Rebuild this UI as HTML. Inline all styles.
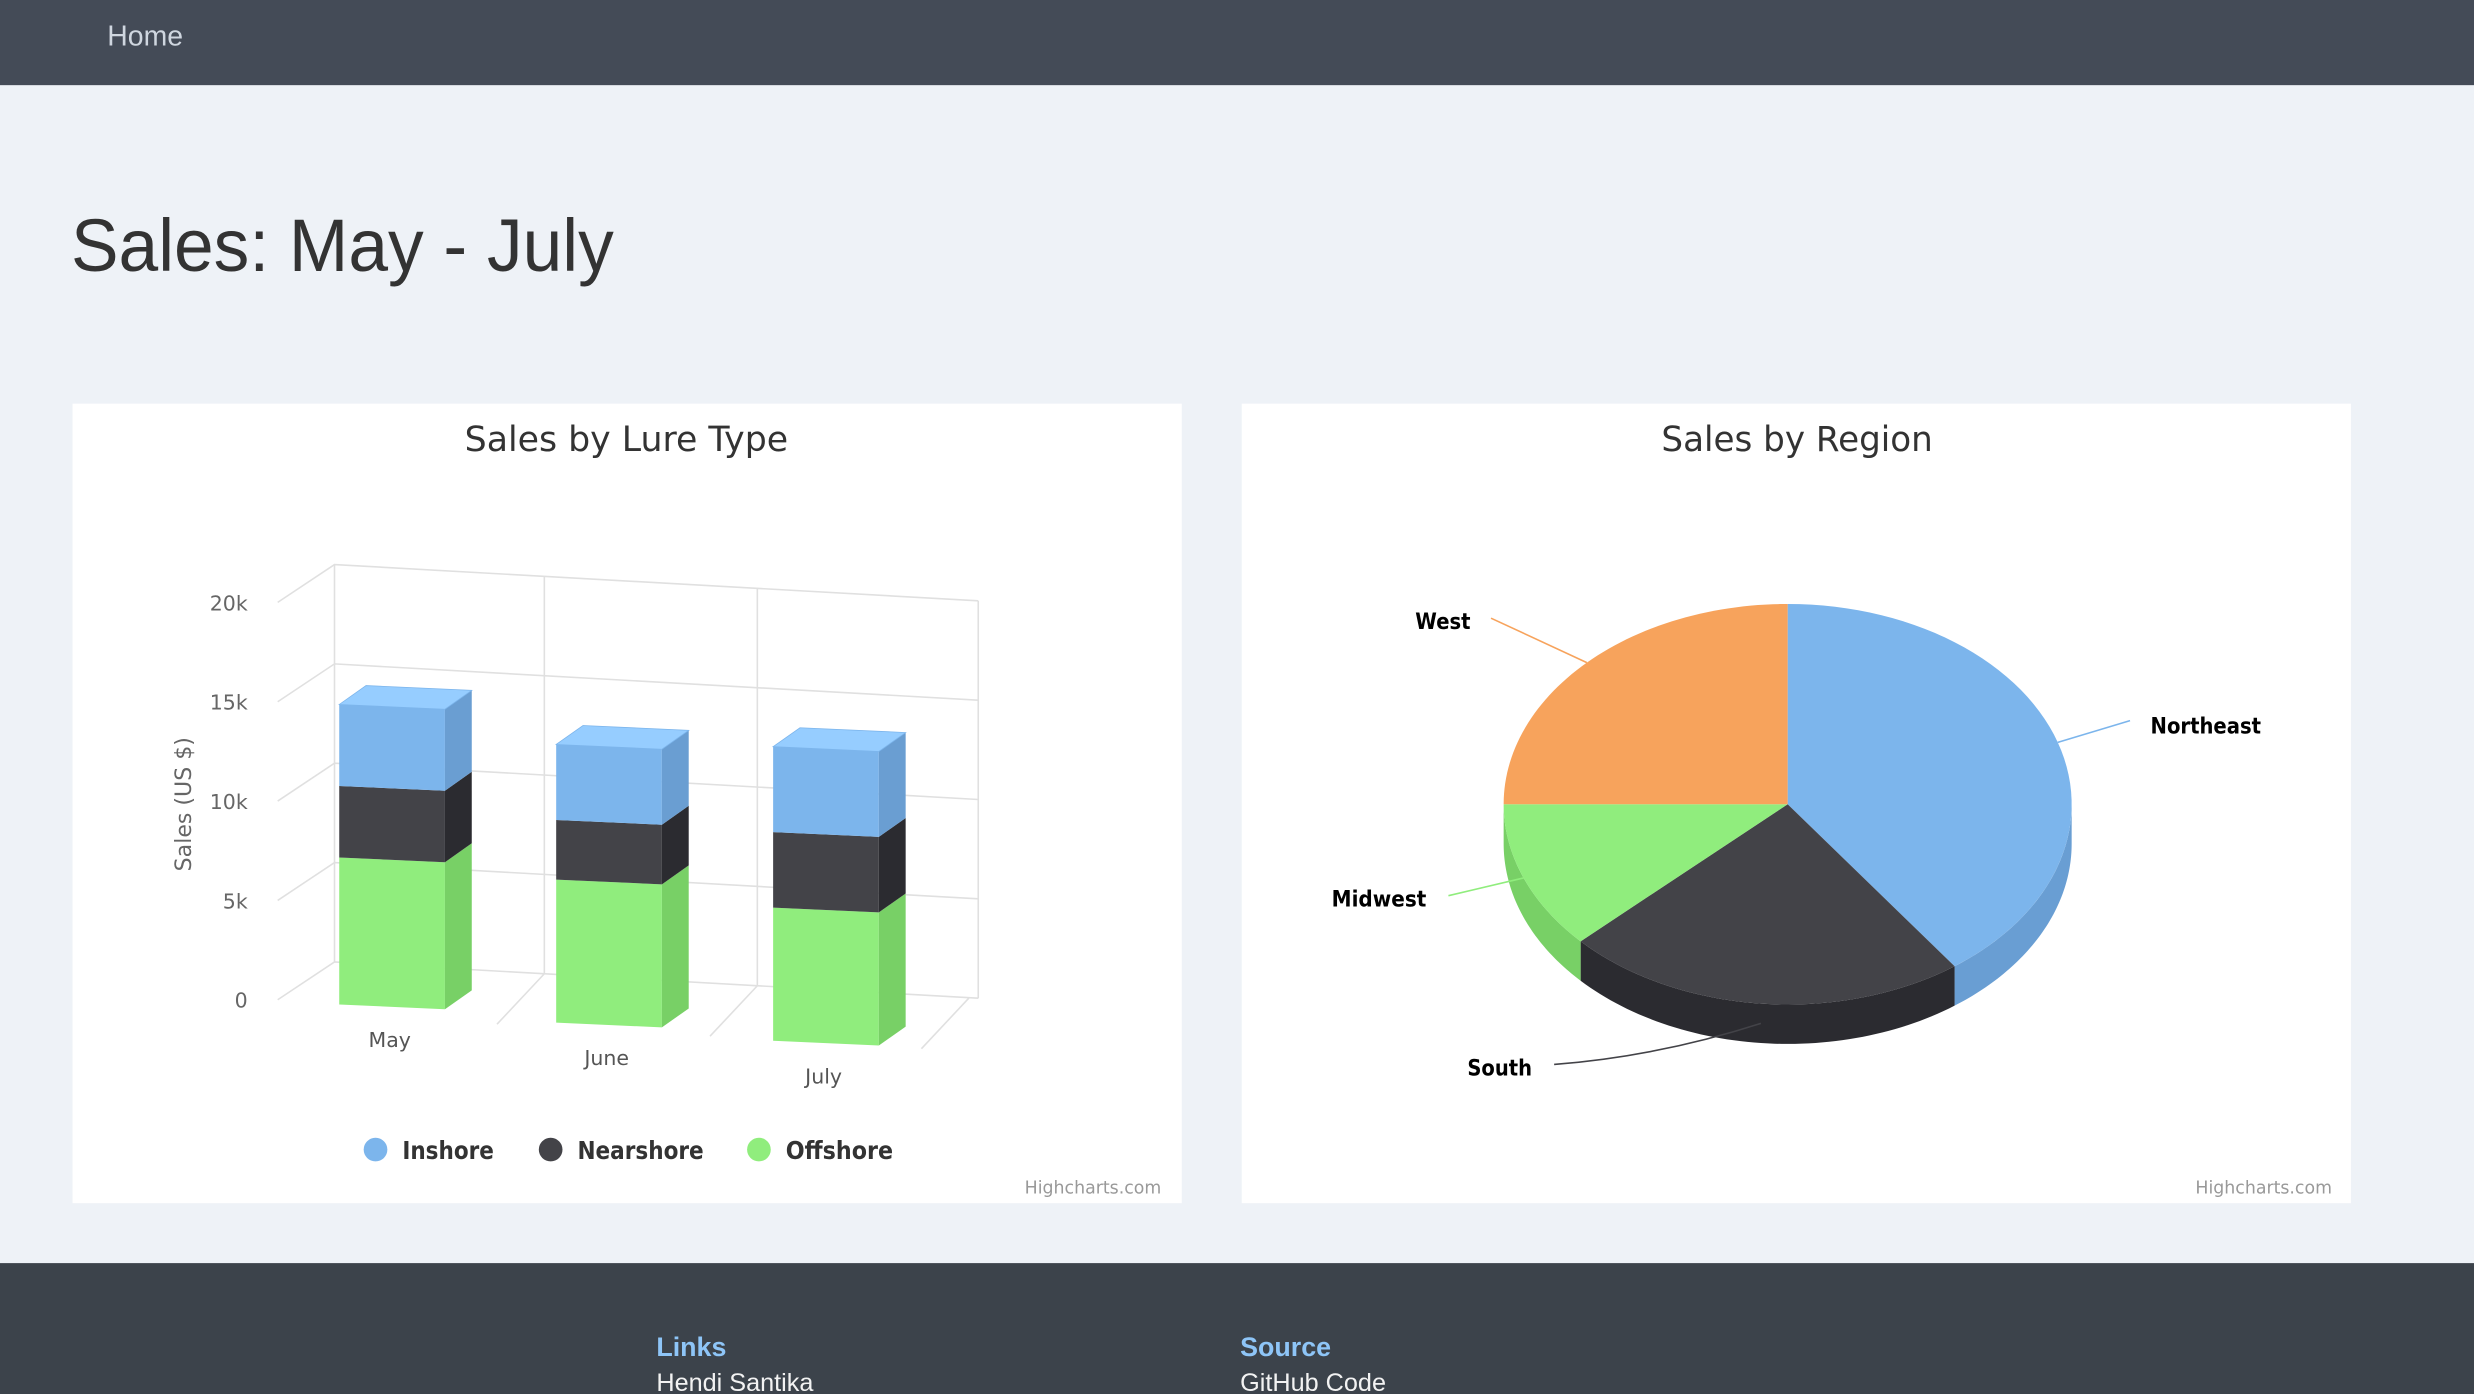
<!DOCTYPE html>
<html><head><meta charset="utf-8"><style>
html,body{margin:0;padding:0;background:#eef2f7;}
svg{display:block}
</style></head><body>
<svg id="page" width="2474" height="1394" viewBox="0 0 1568 884" preserveAspectRatio="none" xmlns="http://www.w3.org/2000/svg">
<rect width="1568" height="884" fill="#eef2f7"/>
<rect x="0" y="0" width="1568" height="54" fill="#444b57"/>
<text x="68" y="29" font-family="Liberation Sans, sans-serif" font-size="18" fill="#cfd6df">Home</text>
<text x="45" y="172" font-family="Liberation Sans, sans-serif" font-size="47" fill="#333" textLength="344" lengthAdjust="spacingAndGlyphs">Sales: May - July</text>

<rect x="46" y="256" width="703" height="507" fill="#fff"/>
<rect x="787" y="256" width="703" height="507" fill="#fff"/>
<text x="397" y="286" text-anchor="middle" font-family="DejaVu Sans, sans-serif" font-size="22" fill="#333" textLength="205" lengthAdjust="spacingAndGlyphs">Sales by Lure Type</text>
<text x="1139" y="286" text-anchor="middle" font-family="DejaVu Sans, sans-serif" font-size="22" fill="#333" textLength="172" lengthAdjust="spacingAndGlyphs">Sales by Region</text>
<g id="bar"></g>
<g id="pie"></g>
<text x="736" y="757" text-anchor="end" font-family="DejaVu Sans, sans-serif" font-size="11" fill="#999">Highcharts.com</text>
<text x="1478" y="757" text-anchor="end" font-family="DejaVu Sans, sans-serif" font-size="11" fill="#999">Highcharts.com</text>

<rect x="0" y="801" width="1568" height="83" fill="#3c434b"/>
<text x="416" y="860" font-family="Liberation Sans, sans-serif" font-size="17" font-weight="bold" fill="#8ec5f7">Links</text>
<text x="416" y="882" font-family="Liberation Sans, sans-serif" font-size="16" fill="#f2f2f2">Hendi Santika</text>
<text x="786" y="860" font-family="Liberation Sans, sans-serif" font-size="17" font-weight="bold" fill="#8ec5f7">Source</text>
<text x="786" y="882" font-family="Liberation Sans, sans-serif" font-size="16" fill="#f2f2f2">GitHub Code</text>
</svg>
<script>
const categories = ['May','June','July'];
const offshore = [7400, 7200, 6700];
const nearshore = [3600, 3000, 3800];
const inshore = [4100, 3800, 4300];
const yTicks = [0, 5000, 10000, 15000, 20000];
const yTickLabels = ['0','5k','10k','15k','20k'];

const pieNames = ['Northeast','South','Midwest','West'];
const pieValues = [40, 23, 12, 25];

const NS='http://www.w3.org/2000/svg';
function mk(tag, attrs, parent){const e=document.createElementNS(NS,tag);for(const k in attrs)e.setAttribute(k,attrs[k]);parent.appendChild(e);return e;}
const bar=document.getElementById('bar');
const K=252/20000;
function yFront(v){return 634 - v*K;}
function yBack(v){return 610 - v*K;}
function catX(i){return 215 + i*137.5;}
function catBase(i){return 3 + i*11.5;}

const gc='#e0e0e0';
yTicks.forEach((t,i)=>{
  const g=mk('path',{d:`M176 ${yFront(t)} L212 ${yBack(t)} L620 ${yBack(t)+23}`,fill:'none',stroke:gc,'stroke-width':1},bar);
  
  
  const l=mk('text',{x:157,y:yFront(t)+5,'text-anchor':'end','font-family':'DejaVu Sans, sans-serif','font-size':13,fill:'#666'},bar);
  l.textContent=yTickLabels[i];
  
  
});
[[212,0],[345,1],[480,2],[620,3]].forEach(([x,j])=>{
  const top=yBack(20000)+(x-212)*0.0564, bot=yBack(0)+(x-212)*0.0564;
  const v=mk('line',{x1:x,y1:top,x2:x,y2:bot,stroke:gc},bar);
  
  
  if(j>0){
    const fx=x-(j===3?6:0);
    const f=mk('line',{x1:fx,y1:bot,x2:fx-30,y2:bot+32,stroke:gc},bar);
    
    
  }
});

const yt=mk('text',{x:0,y:0,transform:'translate(121,510) rotate(-90)','text-anchor':'middle','font-family':'DejaVu Sans, sans-serif','font-size':14,fill:'#666'},bar);
yt.textContent='Sales (US $)';



const series=[{d:offshore,f:'#90ed7d',s:'#78d066',t:'#a8f596',n:'offshore'},{d:nearshore,f:'#434348',s:'#2b2b30',t:'#5a5a60',n:'nearshore'},{d:inshore,f:'#7cb5ec',s:'#6a9ed2',t:'#96cdff',n:'inshore'}];
const W=67,DX=17,DY=-12,SL=0.045;
categories.forEach((c,i)=>{
  const x0=catX(i),x1=x0+W,b=catBase(i);
  let acc=0;
  series.forEach((s,si)=>{
    const v0=acc, v1=acc+s.d[i]; acc=v1;
    const yl0=yFront(v0)+b, yl1=yFront(v1)+b, yr0=yl0+W*SL, yr1=yl1+W*SL;
    const fr=mk('polygon',{points:`${x0},${yl0} ${x1},${yr0} ${x1},${yr1} ${x0},${yl1}`,fill:s.f},bar);
    
    
    const sd=mk('polygon',{points:`${x1},${yr0} ${x1+DX},${yr0+DY} ${x1+DX},${yr1+DY} ${x1},${yr1}`,fill:s.s},bar);
    
    
    if(si===series.length-1){
      const tp=mk('polygon',{points:`${x0},${yl1} ${x1},${yr1} ${x1+DX},${yr1+DY} ${x0+DX},${yl1+DY}`,fill:s.t,stroke:'#7cb5ec','stroke-width':0.5},bar);
      
      
    }
  });
  const cl=mk('text',{x:x0+32,y:yFront(0)+b+27,'text-anchor':'middle','font-family':'DejaVu Sans, sans-serif','font-size':13,fill:'#555'},bar);
  cl.textContent=c;
  
  
});
const legendNames=['Inshore','Nearshore','Offshore'],legendCols=['#7cb5ec','#434348','#90ed7d'],legendX=[238,349,481],legendW=[58,80,68];
legendNames.forEach((n,i)=>{
  const g=mk('g',{},bar);
  
  
  mk('circle',{cx:legendX[i],cy:729,r:7.5,fill:legendCols[i]},g);
  const t=mk('text',{x:legendX[i]+17,y:735,'font-family':'DejaVu Sans, sans-serif','font-size':16,'font-weight':'bold',fill:'#333',textLength:legendW[i],lengthAdjust:'spacingAndGlyphs'},g);
  t.textContent=n;
});

const pie=document.getElementById('pie');
const CX=1133,CY=510,RX=180,RY=127,D=25;
const pcols=['#7cb5ec','#434348','#90ed7d','#f7a35c'];
const pside=['#699ed3','#2b2b30','#78d066','#d88a48'];
// label layout (text anchor x,y and connector end) per slice
const labelLayout=[{tx:1363,ty:465,lx:1350,ly:457,anchor:'start',w:70},{tx:971,ty:682,lx:985,ly:675,anchor:'end',w:41},{tx:904,ty:575,lx:918,ly:568,anchor:'end',w:60},{tx:932,ty:399,lx:945,ly:392,anchor:'end',w:35}];
const total=pieValues.reduce((a,b)=>a+b,0);
const P=(t,dy=0)=>[CX+RX*Math.cos(t),CY+RY*Math.sin(t)+dy];
let a=-Math.PI/2;const angs=[];
pieValues.forEach(v=>{const a1=a+v/total*2*Math.PI;angs.push([a,a1]);a=a1;});
function arcPts(t0,t1,dy){const pts=[];const n=60;for(let k=0;k<=n;k++){pts.push(P(t0+(t1-t0)*k/n,dy));}return pts;}
angs.forEach(([t0,t1],i)=>{
  let s=Math.max(t0,0),e=Math.min(t1,Math.PI);
  if(e>s){
    const top=arcPts(s,e,0),bot=arcPts(e,s,D);
    const pp=mk('polygon',{points:top.concat(bot).map(p=>p.join(',')).join(' '),fill:pside[i]},pie);
    
    
  }
});
angs.forEach(([t0,t1],i)=>{
  const pts=[[CX,CY]].concat(arcPts(t0,t1,0));
  const pp=mk('polygon',{points:pts.map(p=>p.join(',')).join(' '),fill:pcols[i]},pie);
  
  
});
angs.forEach(([t0,t1],i)=>{
  const m=(t0+t1)/2;const s=Math.sin(m);
  const [ex,ey]=P(m, s>0.8?D*0.5:0);
  const L=labelLayout[i];
  const pth=mk('path',{d:`M${ex} ${ey} Q${(ex+L.lx)/2} ${(ey+L.ly)/2+(s>0.8?8:0)} ${L.lx} ${L.ly}`,fill:'none',stroke:pcols[i],'stroke-width':1},pie);
  
  
  const t=mk('text',{x:L.tx,y:L.ty,'text-anchor':L.anchor,'font-family':'DejaVu Sans, sans-serif','font-size':14,'font-weight':'bold',fill:'#000',textLength:L.w,lengthAdjust:'spacingAndGlyphs'},pie);
  t.textContent=pieNames[i];
  
  
});
</script>
</body></html>
